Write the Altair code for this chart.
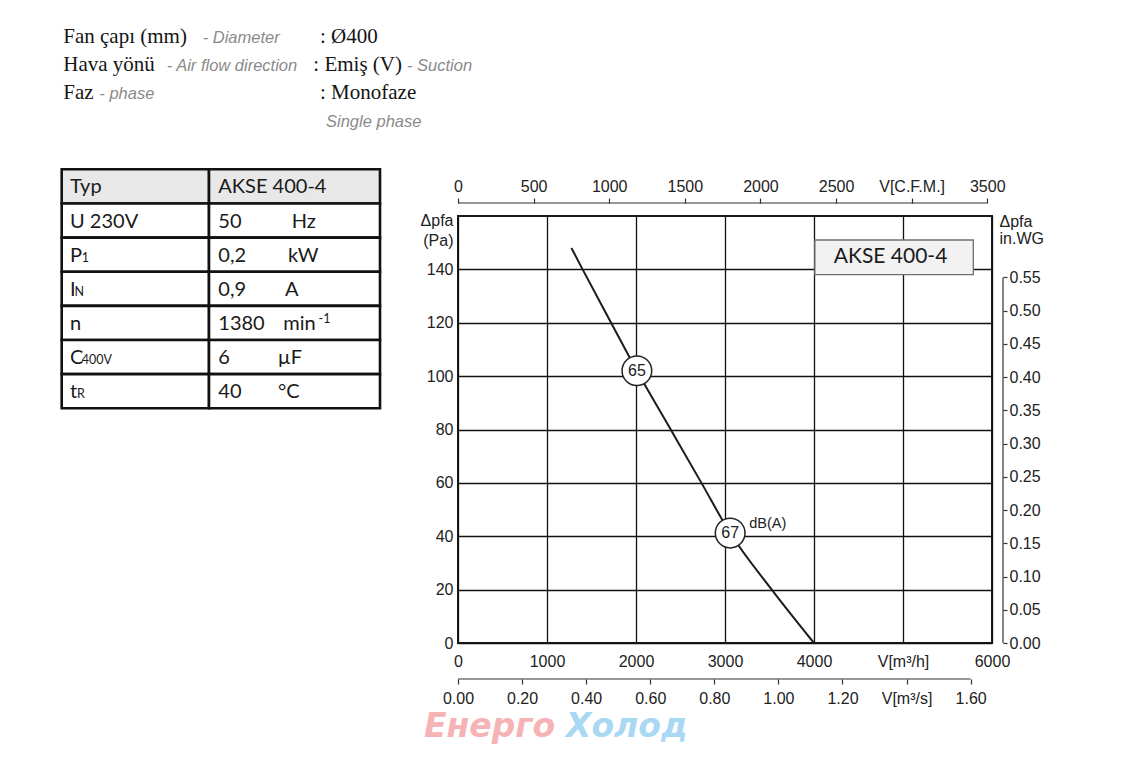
import altair as alt
import pandas as pd

# ------------------------------------------------------------------ data
flow_m3h = [1275, 1400, 1720, 2010, 2390, 2735, 3058, 3525, 4000]
pressure_pa = [148, 140, 120, 102, 80, 60, 41.2, 20, 0]

noise_flow_m3h = [2010, 3058]
noise_pressure_pa = [102, 41.2]
noise_dba = ["65", "67"]
noise_unit = "dB(A)"

model_name = "AKSE 400-4"
model_box_m3h = [4010, 5790]
model_box_pa = [138, 151]

m3h_ticks = [0, 1000, 2000, 3000, 4000, 5000, 6000]
pa_ticks = [0, 20, 40, 60, 80, 100, 120, 140]
cfm_ticks = [0, 500, 1000, 1500, 2000, 2500, 3000, 3500]
m3s_ticks = [0.0, 0.2, 0.4, 0.6, 0.8, 1.0, 1.2, 1.4, 1.6]
inwg_ticks = [0.0, 0.05, 0.1, 0.15, 0.2, 0.25, 0.3, 0.35, 0.4, 0.45, 0.5, 0.55]

table_labels = ["Typ", "U 230V", "P", "I", "n", "C", "t"]
table_subs = ["", "", "1", "N", "", "400V", "R"]
table_values = ["AKSE 400-4", "50", "0,2", "0,9", "1380", "6", "40"]
table_units = ["", "Hz", "kW", "A", "min", "µF", "°C"]
table_sups = ["", "", "", "", "-1", "", ""]

header_tr = ["Fan çapı (mm)", "Hava yönü", "Faz", ""]
header_tr_en = ["- Diameter", "- Air flow direction", "- phase", ""]
header_val = [": Ø400", ": Emiş (V)", ": Monofaze", ""]
header_val_en = ["", "- Suction", "", "Single phase"]

watermark = ["Енерго", "Холод"]

# unit conversions
M3H_PER_CFM = 1.69901
M3H_PER_M3S = 3600.0
PA_PER_INWG = 249.089
X_MAX_M3H = 6000
Y_MAX_PA = 160

# ------------------------------------------------------------------ layout
W, H = 534, 427          # plot area
X0, Y0 = 458, 216        # page position of the plot origin


def px(x):
    return x - X0


def py(y):
    return y - Y0


FONT = "Liberation Sans"
SERIF = "Liberation Serif"
TFONT = "Lato"
INK = "#1c1c1c"

# ------------------------------------------------------------------ main chart
curve_df = pd.DataFrame({"q": flow_m3h, "p": pressure_pa})
noise_df = pd.DataFrame({"q": noise_flow_m3h, "p": noise_pressure_pa, "db": noise_dba})
box_df = pd.DataFrame({"q": [model_box_m3h[0]], "q2": [model_box_m3h[1]],
                       "p": [model_box_pa[0]], "p2": [model_box_pa[1]]})
box_txt_df = pd.DataFrame({"q": [sum(model_box_m3h) / 2 - 40],
                           "p": [sum(model_box_pa) / 2], "label": [model_name]})

x_main = alt.X(
    "q:Q",
    scale=alt.Scale(domain=[0, X_MAX_M3H], nice=False),
    axis=alt.Axis(orient="bottom", values=m3h_ticks, format="d",
                  labelExpr="datum.value == 5000 ? 'V[m³/h]' : datum.label",
                  tickSize=0, labelPadding=10, domain=False, grid=True,
                  gridColor="#111", gridWidth=1.3, labelFlush=False, title=None),
)
y_main = alt.Y(
    "p:Q",
    scale=alt.Scale(domain=[0, Y_MAX_PA], nice=False),
    axis=alt.Axis(orient="left", values=pa_ticks, tickSize=0, labelPadding=5,
                  domain=False, grid=True, gridColor="#111", gridWidth=1.3,
                  labelFlush=False,
                  title=["Δpfa", "(Pa)"], titleAngle=0, titleAlign="right",
                  titleBaseline="top", titleX=-5, titleY=-4, titleLineHeight=20),
)

curve = alt.Chart(curve_df).mark_line(
    color=INK, strokeWidth=2, interpolate="monotone"
).encode(x=x_main, y=y_main)

circles = alt.Chart(noise_df).mark_circle(
    size=880, fill="white", opacity=1, stroke="#222", strokeWidth=1.5
).encode(x="q:Q", y="p:Q")

circle_txt = alt.Chart(noise_df).mark_text(
    font=FONT, fontSize=16, color="#222"
).encode(x="q:Q", y="p:Q", text="db:N")

dba_txt = alt.Chart(noise_df).transform_filter(
    alt.datum.db == noise_dba[-1]
).mark_text(
    text=noise_unit, align="left", baseline="middle", dx=19, dy=-9,
    font=FONT, fontSize=14.5, color="#222"
).encode(x="q:Q", y="p:Q")

box = alt.Chart(box_df).mark_rect(
    fill="#f2f2f2", stroke="#707070", strokeWidth=1.3
).encode(x="q:Q", x2="q2:Q", y="p:Q", y2="p2:Q")

box_txt = alt.Chart(box_txt_df).mark_text(
    font=TFONT, fontSize=21, color="#1a1a1a"
).encode(x="q:Q", y="p:Q", text="label:N")

main = alt.layer(curve, circles, circle_txt, dba_txt, box, box_txt)

# ------------------------------------------------------------------ secondary axes
cfm_df = pd.DataFrame({"c": [cfm_ticks[0]], "c2": [cfm_ticks[-1]]})
cfm = alt.Chart(cfm_df).mark_rule(color="#333", strokeWidth=1.2).encode(
    x=alt.X("c:Q", scale=alt.Scale(domain=[0, X_MAX_M3H / M3H_PER_CFM], nice=False),
            axis=alt.Axis(orient="top", offset=13, values=cfm_ticks, format="d",
                          labelExpr="datum.value == 3000 ? 'V[C.F.M.]' : datum.label",
                          domain=False, tickSize=5, tickWidth=1.2, tickColor="#333",
                          labelPadding=4, grid=False, labelFlush=False, title=None)),
    x2="c2:Q",
    y=alt.value(-13),
)

m3s_df = pd.DataFrame({"s": [m3s_ticks[0]], "s2": [m3s_ticks[-1]]})
m3s = alt.Chart(m3s_df).mark_rule(color="#333", strokeWidth=1.2).encode(
    x=alt.X("s:Q", scale=alt.Scale(domain=[0, X_MAX_M3H / M3H_PER_M3S], nice=False),
            axis=alt.Axis(orient="bottom", offset=36, values=m3s_ticks, format=".2f",
                          labelExpr="datum.value == 1.4 ? 'V[m³/s]' : datum.label",
                          domain=False, tickSize=5, tickWidth=1.2, tickColor="#333",
                          labelPadding=6, grid=False, labelFlush=False, title=None)),
    x2="s2:Q",
    y=alt.value(H + 36),
)

inwg_df = pd.DataFrame({"w": [inwg_ticks[0]], "w2": [inwg_ticks[-1]]})
inwg = alt.Chart(inwg_df).mark_rule(color="#333", strokeWidth=1.2).encode(
    y=alt.Y("w:Q", scale=alt.Scale(domain=[0, Y_MAX_PA / PA_PER_INWG], nice=False),
            axis=alt.Axis(orient="right", offset=11, values=inwg_ticks, format=".2f",
                          domain=False, tickSize=4, tickWidth=1.2, tickColor="#333",
                          labelPadding=2, grid=False, labelFlush=False,
                          title=["Δpfa", "in.WG"], titleAngle=0, titleAlign="left",
                          titleBaseline="top", titleX=-4, titleY=-3, titleLineHeight=17)),
    y2="w2:Q",
    x=alt.value(W + 11),
)

# ------------------------------------------------------------------ spec table
T_LEFT, T_MID, T_RIGHT = 61.7, 209.0, 380.0
T_TOP, T_BOTTOM = 169.3, 408.3
T_TEXT_X = 70.0
T_VALUE_X = 218.3
SUB_X = {"1": 81.7, "N": 74.6, "400V": 81.7, "R": 77.0}
UNIT_X = {"Hz": 291.7, "kW": 288.0, "A": 285.0, "min": 283.3, "µF": 277.7, "°C": 278.0}
SUP_X = 318.5

rows = list(range(len(table_labels)))
table_df = pd.DataFrame({"r": rows, "label": table_labels, "sub": table_subs,
                         "value": table_values, "unit": table_units, "sup": table_sups})

y_row = alt.Y("r:O", scale=alt.Scale(domain=rows, range=[py(T_TOP), py(T_BOTTOM)],
                                     paddingInner=0, paddingOuter=0), axis=None)
cell_fill = alt.condition(alt.datum.r == 0, alt.value("#e8e8e8"), alt.value("white"))


def cells(x_a, x_b):
    return alt.Chart(table_df).mark_rect(stroke="#111", strokeWidth=2.6).encode(
        x=alt.value(px(x_a)), x2=alt.value(px(x_b)), y=y_row, fill=cell_fill)


def ttext(field, x_page, size=20, dy=7, row=None):
    ch = alt.Chart(table_df)
    if row is not None:
        ch = ch.transform_filter(alt.datum.r == row)
    return ch.mark_text(align="left", baseline="alphabetic", dy=dy, font=TFONT,
                        fontSize=size, color="#1a1a1a").encode(
        x=alt.value(px(x_page)), y=y_row, text=f"{field}:N")


table_layers = [cells(T_LEFT, T_MID), cells(T_MID, T_RIGHT),
                ttext("label", T_TEXT_X), ttext("value", T_VALUE_X)]
for i, s in enumerate(table_subs):
    if s:
        table_layers.append(ttext("sub", SUB_X[s], size=12.5, row=i))
for i, u in enumerate(table_units):
    if u:
        table_layers.append(ttext("unit", UNIT_X[u], row=i))
for i, s in enumerate(table_sups):
    if s:
        table_layers.append(ttext("sup", SUP_X, size=12.5, dy=0, row=i))
table = alt.layer(*table_layers)

# ------------------------------------------------------------------ header lines
H_LINE_TOP, H_LINE_BOTTOM = 43.0, 127.0
H_TR_X = 63.3
H_TR_EN_X = [202.7, 166.7, 99.3, None]
H_VAL_X = [320.0, 313.3, 320.0, None]
H_VAL_EN_X = [None, 407.0, None, 326.0]

lines = list(range(len(header_tr)))
header_df = pd.DataFrame({"line": lines, "tr": header_tr, "tr_en": header_tr_en,
                          "val": header_val, "val_en": header_val_en})
y_line = alt.Y("line:O", scale=alt.Scale(type="point", domain=lines,
                                         range=[py(H_LINE_TOP), py(H_LINE_BOTTOM)],
                                         padding=0), axis=None)


def htext(field, x_page, row=None, grey=False):
    ch = alt.Chart(header_df)
    if row is not None:
        ch = ch.transform_filter(alt.datum.line == row)
    if grey:
        mk = ch.mark_text(align="left", baseline="alphabetic", font=FONT, fontSize=16.5,
                          fontStyle="italic", color="#8a8a8a")
    else:
        mk = ch.mark_text(align="left", baseline="alphabetic", font=SERIF, fontSize=21,
                          color="#141414")
    return mk.encode(x=alt.value(px(x_page)), y=y_line, text=f"{field}:N")


header_layers = [htext("tr", H_TR_X)]
for i in lines:
    if H_TR_EN_X[i] is not None:
        header_layers.append(htext("tr_en", H_TR_EN_X[i], row=i, grey=True))
    if H_VAL_X[i] is not None:
        header_layers.append(htext("val", H_VAL_X[i], row=i))
    if H_VAL_EN_X[i] is not None:
        header_layers.append(htext("val_en", H_VAL_EN_X[i], row=i, grey=True))
header = alt.layer(*header_layers)

# ------------------------------------------------------------------ watermark
wm_df = pd.DataFrame({"a": [watermark[0]], "b": [watermark[1]]})
wm_a = alt.Chart(wm_df).mark_text(
    align="left", baseline="alphabetic", font="DejaVu Sans", fontSize=33,
    fontWeight="bold", fontStyle="italic", color="#f5b3b6"
).encode(x=alt.value(px(424)), y=alt.value(py(737)), text="a:N")
wm_b = alt.Chart(wm_df).mark_text(
    align="left", baseline="alphabetic", font="DejaVu Sans", fontSize=33,
    fontWeight="bold", fontStyle="italic", color="#a9d8f3"
).encode(x=alt.value(px(566)), y=alt.value(py(737)), text="b:N")

# ------------------------------------------------------------------ compose
chart = alt.layer(
    wm_a, wm_b, main, cfm, m3s, inwg, table, header
).resolve_scale(
    x="independent", y="independent"
).properties(
    width=W, height=H,
    padding={"left": X0 - 8, "top": Y0 - 8, "right": 120, "bottom": 112},
    autosize=alt.AutoSizeParams(type="none"),
    background="white",
).configure_view(
    stroke="#1a1a1a", strokeWidth=2
).configure_axis(
    labelFont=FONT, labelFontSize=16, labelColor="#222",
    titleFont=FONT, titleFontSize=16, titleFontWeight="normal", titleColor="#222",
)

chart.save("out.html", embed_options={"renderer": "svg", "actions": False})
